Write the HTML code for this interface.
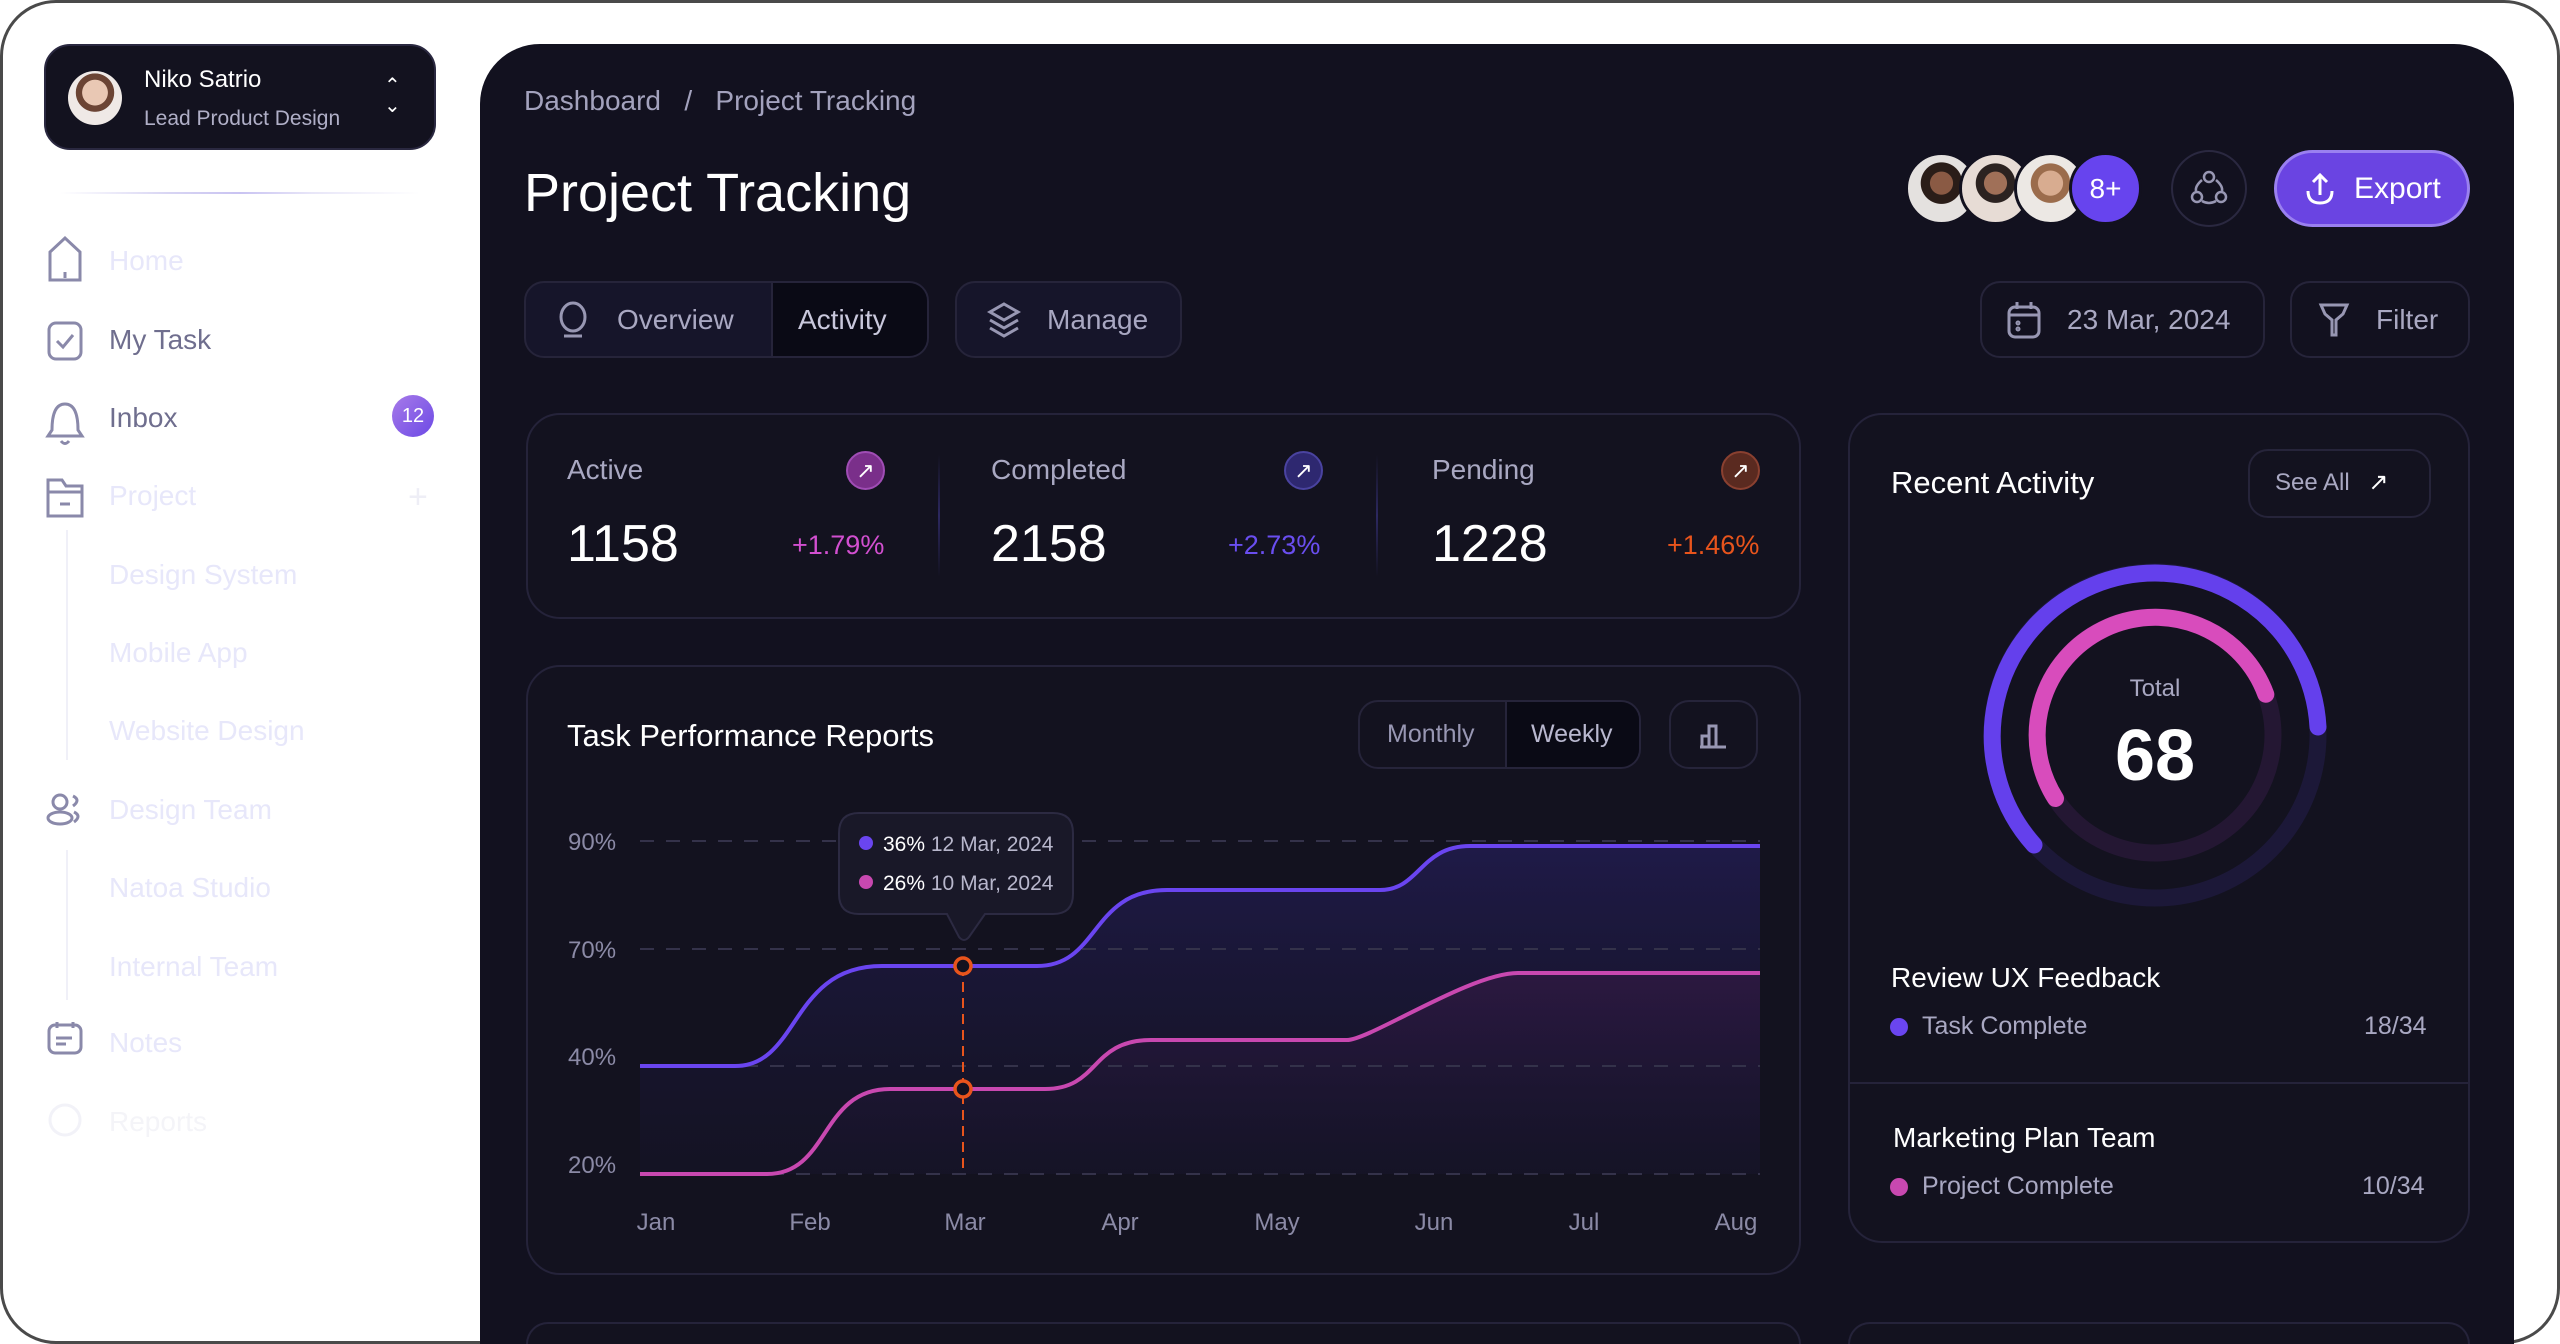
<!DOCTYPE html>
<html style="width:2560px;height:1344px;overflow:hidden"><head><meta charset="utf-8"><style>
*{box-sizing:border-box;margin:0;padding:0}
body{width:2560px;height:1344px;overflow:hidden;background:#fff;font-family:"Liberation Sans",sans-serif;position:relative}
.a{position:absolute}
.frame{left:0;top:0;width:2560px;height:1344px;border:3px solid #4a4a4a;border-radius:56px;}
.main{left:480px;top:44px;width:2034px;height:1300px;background:#12111f;border-radius:60px 60px 0 0}
.card{position:absolute;border:2px solid #25233a;border-radius:34px;background:#13121f}
.t{position:absolute;white-space:nowrap;line-height:1}
.side{color:#e7e7fa;font-size:28px}
.sideg{color:#6f6e8e;font-size:28px}
.btn{position:absolute;border:2px solid #26243a;border-radius:20px}
.g{color:#9897b3}
</style></head><body>
<div class="a frame"></div>

<!-- sidebar user card -->
<div class="a" style="left:44px;top:44px;width:392px;height:106px;background:#13121f;border:2px solid #2a2840;border-radius:26px"></div>
<div class="a" style="left:68px;top:71px;width:54px;height:54px;border-radius:50%;background:radial-gradient(circle at 50% 40%,#e9c8b4 0 30%,#6b4434 31% 45%,#efe9e6 46%)"></div>
<div class="t" style="left:144px;top:68px;color:#fff;font-size:24px">Niko Satrio</div>
<div class="t" style="left:144px;top:108px;color:#b0afc7;font-size:21px">Lead Product Design</div>
<div class="t" style="left:384px;top:76px;color:#fff;font-size:20px;line-height:20px;text-align:center">&#8963;<br>&#8964;</div>
<div class="a" style="left:60px;top:192px;width:360px;height:2px;background:linear-gradient(90deg,#fff,#d8d5f3 30%,#c9c3f2 50%,#e8e6f8 70%,#fff)"></div>

<!-- sidebar items -->
<svg class="a" style="left:40px;top:230px" width="60" height="920" fill="none" stroke="#8a89aa" stroke-width="3">
 <path d="M10 50 V22 L25 8 L40 22 V50 Z"/><line x1="25" y1="42" x2="25" y2="48"/>
 <rect x="9" y="93" width="32" height="36" rx="7"/><path d="M17 111 l6 6 l10 -12"/>
 <path d="M12 200 q0-26 13-26 q13 0 13 26 l4 6 h-34 z"/><path d="M21 211 q4 5 8 0"/>
 <path d="M8 250 h14 l4 6 h16 v30 h-34 z"/><line x1="8" y1="262" x2="42" y2="262"/><line x1="20" y1="274" x2="30" y2="274"/>
 <line x1="27" y1="300" x2="27" y2="530" stroke="#f0f0f8" stroke-width="2"/>
 <circle cx="20" cy="572" r="7"/><ellipse cx="20" cy="588" rx="12" ry="6"/><path d="M33 566 q8 4 0 10 M34 582 q8 4 0 10"/>
 <line x1="27" y1="620" x2="27" y2="770" stroke="#f0f0f8" stroke-width="2"/>
 <rect x="9" y="795" width="32" height="28" rx="6"/><line x1="17" y1="792" x2="17" y2="798"/><line x1="33" y1="792" x2="33" y2="798"/><line x1="16" y1="808" x2="32" y2="808"/><line x1="16" y1="814" x2="26" y2="814"/>
 <circle cx="25" cy="890" r="15" stroke="#f2f2f8"/>
</svg>
<div class="t side" style="left:109px;top:247px">Home</div>
<div class="t sideg" style="left:109px;top:326px">My Task</div>
<div class="t sideg" style="left:109px;top:404px">Inbox</div>
<div class="a" style="left:392px;top:395px;width:42px;height:42px;border-radius:50%;background:linear-gradient(135deg,#a77ae8,#6c4ae6);color:#fff;font-size:20px;text-align:center;line-height:42px">12</div>
<div class="t side" style="left:109px;top:482px">Project</div>
<div class="t" style="left:408px;top:480px;color:#eeeef6;font-size:34px">+</div>
<div class="t side" style="left:109px;top:561px">Design System</div>
<div class="t side" style="left:109px;top:639px">Mobile App</div>
<div class="t side" style="left:109px;top:717px">Website Design</div>
<div class="t side" style="left:109px;top:796px">Design Team</div>
<div class="t side" style="left:109px;top:874px">Natoa Studio</div>
<div class="t side" style="left:109px;top:953px">Internal Team</div>
<div class="t side" style="left:109px;top:1029px">Notes</div>
<div class="t" style="left:109px;top:1108px;color:#f4f4f8;font-size:28px">Reports</div>

<!-- main -->
<div class="a main"></div>
<div class="t g" style="left:524px;top:87px;font-size:28px;color:#a3a2bd">Dashboard &nbsp;&nbsp;/ &nbsp;&nbsp;Project Tracking</div>
<div class="t" style="left:524px;top:166px;font-size:54px;color:#fff">Project Tracking</div>

<!-- tabs -->
<div class="btn" style="left:524px;top:281px;width:405px;height:77px;background:#16152a"></div>
<div class="a" style="left:771px;top:283px;width:156px;height:73px;background:#0a0a15;border-radius:0 18px 18px 0;border-left:2px solid #26243a"></div>
<svg class="a" style="left:556px;top:300px" width="34" height="40" fill="none" stroke="#9897b3" stroke-width="3"><ellipse cx="17" cy="17" rx="12" ry="14"/><line x1="8" y1="36" x2="26" y2="36"/></svg>
<div class="t" style="left:617px;top:306px;font-size:28px;color:#a9a8c2">Overview</div>
<div class="t" style="left:798px;top:306px;font-size:28px;color:#c9c8dc">Activity</div>
<div class="btn" style="left:955px;top:281px;width:227px;height:77px;background:#16152a"></div>
<svg class="a" style="left:984px;top:300px" width="40" height="40" fill="none" stroke="#9897b3" stroke-width="3"><path d="M20 4 L34 12 L20 20 L6 12 Z"/><path d="M6 20 L20 28 L34 20"/><path d="M6 28 L20 36 L34 28"/></svg>
<div class="t" style="left:1047px;top:306px;font-size:28px;color:#a9a8c2">Manage</div>

<!-- top right -->
<div class="a" style="left:1905px;top:152px;width:73px;height:73px;border-radius:50%;border:3px solid #12111f;background:radial-gradient(circle at 50% 42%,#8a5a44 0 22%,#2a1d18 23% 40%,#e4e1df 41%)"></div>
<div class="a" style="left:1959px;top:152px;width:73px;height:73px;border-radius:50%;border:3px solid #12111f;background:radial-gradient(circle at 50% 42%,#a07058 0 22%,#2b2220 23% 38%,#e7dcd5 39%)"></div>
<div class="a" style="left:2014px;top:152px;width:73px;height:73px;border-radius:50%;border:3px solid #12111f;background:radial-gradient(circle at 50% 42%,#d8ac90 0 24%,#9b6c4c 25% 38%,#ece8e4 39%)"></div>
<div class="a" style="left:2069px;top:152px;width:73px;height:73px;border-radius:50%;border:3px solid #12111f;background:#6744ee;color:#fff;font-size:28px;text-align:center;line-height:67px">8+</div>
<div class="a" style="left:2171px;top:150px;width:76px;height:77px;border-radius:50%;border:2px solid #2a2840"></div>
<svg class="a" style="left:2189px;top:168px" width="40" height="40" fill="none" stroke="#9897b3" stroke-width="2.5"><circle cx="20" cy="9" r="5"/><circle cx="8" cy="29" r="5"/><circle cx="32" cy="29" r="5"/><path d="M13 12 Q6 18 7 23 M27 12 Q34 18 33 23 M13 33 Q20 37 27 33"/></svg>
<div class="a" style="left:2274px;top:150px;width:196px;height:77px;border-radius:40px;background:#6a44e2;border:3px solid #9a80f0"></div>
<svg class="a" style="left:2302px;top:171px" width="36" height="36" fill="none" stroke="#fff" stroke-width="3"><path d="M18 4 V24 M11 11 L18 4 L25 11"/><path d="M6 20 Q6 32 18 32 Q30 32 30 20"/></svg>
<div class="t" style="left:2354px;top:174px;font-size:30px;color:#fff">Export</div>

<div class="btn" style="left:1980px;top:281px;width:285px;height:77px"></div>
<svg class="a" style="left:2006px;top:300px" width="36" height="40" fill="none" stroke="#9897b3" stroke-width="3"><rect x="3" y="7" width="30" height="30" rx="6"/><line x1="3" y1="15" x2="33" y2="15"/><line x1="11" y1="2" x2="11" y2="9"/><line x1="25" y1="2" x2="25" y2="9"/><circle cx="12" cy="23" r="1"/><circle cx="12" cy="29" r="1"/></svg>
<div class="t" style="left:2067px;top:306px;font-size:28px;color:#a9a8c2">23 Mar, 2024</div>
<div class="btn" style="left:2290px;top:281px;width:180px;height:77px"></div>
<svg class="a" style="left:2318px;top:302px" width="32" height="36" fill="none" stroke="#9897b3" stroke-width="3"><path d="M3 3 H29 L25 12 L18 18 V33 L14 33 V18 L7 12 Z"/></svg>
<div class="t" style="left:2376px;top:306px;font-size:28px;color:#a9a8c2">Filter</div>

<!-- stats card -->
<div class="card" style="left:526px;top:413px;width:1275px;height:206px"></div>
<div class="a" style="left:938px;top:455px;width:2px;height:122px;background:linear-gradient(#13121f,#2c2860,#13121f)"></div>
<div class="a" style="left:1376px;top:455px;width:2px;height:122px;background:linear-gradient(#13121f,#2c2860,#13121f)"></div>
<div class="t" style="left:567px;top:456px;font-size:28px;color:#a9a8c2">Active</div>
<div class="t" style="left:567px;top:518px;font-size:52px;color:#fff">1158</div>
<div class="t" style="left:792px;top:532px;font-size:27px;color:#d24fd0">+1.79%</div>
<div class="a" style="left:846px;top:451px;width:39px;height:39px;border-radius:50%;background:#7a2f8a;border:2px solid #a04db5;color:#fff;font-size:22px;text-align:center;line-height:35px">&#8599;</div>
<div class="t" style="left:991px;top:456px;font-size:28px;color:#a9a8c2">Completed</div>
<div class="t" style="left:991px;top:518px;font-size:52px;color:#fff">2158</div>
<div class="t" style="left:1228px;top:532px;font-size:27px;color:#6a4ef0">+2.73%</div>
<div class="a" style="left:1284px;top:451px;width:39px;height:39px;border-radius:50%;background:#2e2870;border:2px solid #4a43a0;color:#fff;font-size:22px;text-align:center;line-height:35px">&#8599;</div>
<div class="t" style="left:1432px;top:456px;font-size:28px;color:#a9a8c2">Pending</div>
<div class="t" style="left:1432px;top:518px;font-size:52px;color:#fff">1228</div>
<div class="t" style="left:1667px;top:532px;font-size:27px;color:#e8541c">+1.46%</div>
<div class="a" style="left:1721px;top:451px;width:39px;height:39px;border-radius:50%;background:#5a2a20;border:2px solid #8a4030;color:#fff;font-size:22px;text-align:center;line-height:35px">&#8599;</div>

<!-- chart card -->
<div class="card" style="left:526px;top:665px;width:1275px;height:610px"></div>
<div class="t" style="left:567px;top:720px;font-size:31px;color:#fff">Task Performance Reports</div>
<div class="btn" style="left:1358px;top:700px;width:283px;height:69px"></div>
<div class="a" style="left:1505px;top:702px;width:134px;height:65px;background:#0a0a15;border-radius:0 18px 18px 0;border-left:2px solid #26243a"></div>
<div class="t" style="left:1387px;top:722px;font-size:25px;color:#9897b3">Monthly</div>
<div class="t" style="left:1531px;top:722px;font-size:25px;color:#b9b8cf">Weekly</div>
<div class="btn" style="left:1669px;top:700px;width:89px;height:69px"></div>
<svg class="a" style="left:1698px;top:720px" width="32" height="30" fill="none" stroke="#9897b3" stroke-width="3"><path d="M4 26 V16 H11 V26 M11 26 V6 H18 V26"/><line x1="2" y1="27" x2="28" y2="27"/></svg>

<svg class="a" style="left:0;top:0" width="2560" height="1344">
 <defs>
  <linearGradient id="gp" x1="0" y1="0" x2="0" y2="1"><stop offset="0" stop-color="#1f1a48"/><stop offset="1" stop-color="#17152e" stop-opacity="0.3"/></linearGradient>
  <linearGradient id="gk" x1="0" y1="0" x2="0" y2="1"><stop offset="0" stop-color="#2c1840"/><stop offset="1" stop-color="#1a1530" stop-opacity="0.2"/></linearGradient>
 </defs>
 <g font-size="24" fill="#8b8aa6">
  <text x="568" y="850">90%</text><text x="568" y="958">70%</text><text x="568" y="1065">40%</text><text x="568" y="1173">20%</text>
 </g>
 <path d="M640 1066 H735 C800 1066 790 966 882 966 H1037 C1100 966 1090 890 1167 890 H1380 C1420 890 1420 846 1470 846 H1760 V1174 H640 Z" fill="url(#gp)"/>
 <path d="M640 1174 H767 C830 1174 820 1089 890 1089 H1045 C1100 1089 1090 1040 1151 1040 H1347 C1370 1040 1470 973 1518 973 H1760 V1174 H640 Z" fill="url(#gk)"/>
 <g stroke="#34324a" stroke-width="2" stroke-dasharray="14 12">
  <line x1="640" y1="841" x2="1760" y2="841"/><line x1="640" y1="949" x2="1760" y2="949"/><line x1="640" y1="1066" x2="1760" y2="1066"/><line x1="640" y1="1174" x2="1760" y2="1174"/>
 </g>
 <path d="M640 1066 H735 C800 1066 790 966 882 966 H1037 C1100 966 1090 890 1167 890 H1380 C1420 890 1420 846 1470 846 H1760" fill="none" stroke="#6a45f0" stroke-width="4"/>
 <path d="M640 1174 H767 C830 1174 820 1089 890 1089 H1045 C1100 1089 1090 1040 1151 1040 H1347 C1370 1040 1470 973 1518 973 H1760" fill="none" stroke="#c848b0" stroke-width="4"/>
 <line x1="963" y1="966" x2="963" y2="1174" stroke="#e8541c" stroke-width="2" stroke-dasharray="10 6"/>
 <circle cx="963" cy="966" r="8" fill="#12111f" stroke="#e8541c" stroke-width="3.5"/>
 <circle cx="963" cy="1089" r="8" fill="#12111f" stroke="#e8541c" stroke-width="3.5"/>
 <path d="M859 813 H1053 Q1073 813 1073 833 V894 Q1073 914 1053 914 H985 L969 937 Q964 943 959 937 L947 914 H859 Q839 914 839 894 V833 Q839 813 859 813 Z" fill="#191828" stroke="#2c2a42" stroke-width="2"/>
 <circle cx="866" cy="843" r="7" fill="#6a45f0"/><circle cx="866" cy="882" r="7" fill="#c848b0"/>
 <text x="883" y="851" font-size="21" fill="#fff">36% <tspan fill="#b8b7cc">12 Mar, 2024</tspan></text>
 <text x="883" y="890" font-size="21" fill="#fff">26% <tspan fill="#b8b7cc">10 Mar, 2024</tspan></text>
 <g font-size="24" fill="#8b8aa6" text-anchor="middle">
  <text x="656" y="1230">Jan</text><text x="810" y="1230">Feb</text><text x="965" y="1230">Mar</text><text x="1120" y="1230">Apr</text><text x="1277" y="1230">May</text><text x="1434" y="1230">Jun</text><text x="1584" y="1230">Jul</text><text x="1736" y="1230">Aug</text>
 </g>
</svg>

<!-- recent activity -->
<div class="card" style="left:1848px;top:413px;width:622px;height:830px"></div>
<div class="a" style="left:1850px;top:1082px;width:618px;height:2px;background:#25233a"></div>
<div class="t" style="left:1891px;top:467px;font-size:31px;color:#fff">Recent Activity</div>
<div class="btn" style="left:2248px;top:449px;width:183px;height:69px"></div>
<div class="t" style="left:2275px;top:471px;font-size:24px;color:#a9a8c2">See All <span style="color:#fff;margin-left:12px">&#8599;</span></div>
<svg class="a" style="left:0;top:0" width="2560" height="1344">
 <circle cx="2155" cy="735" r="163" fill="none" stroke="#1c1838" stroke-width="17"/>
 <circle cx="2155" cy="735" r="118" fill="none" stroke="#241733" stroke-width="17"/>
 <path d="M2034 845 A163 163 0 1 1 2318 727" fill="none" stroke="#6440ec" stroke-width="17" stroke-linecap="round"/>
 <path d="M2055.5 798.5 A118 118 0 1 1 2265.8 694.3" fill="none" stroke="#d84cbc" stroke-width="17" stroke-linecap="round"/>
 <text x="2155" y="696" font-size="24" fill="#a9a8c2" text-anchor="middle">Total</text>
 <text x="2155" y="780" font-size="72" fill="#fff" text-anchor="middle" font-weight="bold">68</text>
</svg>
<div class="t" style="left:1891px;top:964px;font-size:28px;color:#fff">Review UX Feedback</div>
<div class="a" style="left:1890px;top:1018px;width:18px;height:18px;border-radius:50%;background:#6a45f0"></div>
<div class="t" style="left:1922px;top:1014px;font-size:25px;color:#a9a8c2">Task Complete</div>
<div class="t" style="left:2364px;top:1014px;font-size:25px;color:#a9a8c2">18/34</div>
<div class="t" style="left:1893px;top:1124px;font-size:28px;color:#fff">Marketing Plan Team</div>
<div class="a" style="left:1890px;top:1178px;width:18px;height:18px;border-radius:50%;background:#c848b0"></div>
<div class="t" style="left:1922px;top:1174px;font-size:25px;color:#a9a8c2">Project Complete</div>
<div class="t" style="left:2362px;top:1174px;font-size:25px;color:#a9a8c2">10/34</div>

<!-- bottom cards (clipped at page bottom) -->
<div class="card" style="left:526px;top:1322px;width:1275px;height:22px;border-bottom:none;border-radius:34px 34px 0 0"></div>
<div class="card" style="left:1848px;top:1322px;width:622px;height:22px;border-bottom:none;border-radius:34px 34px 0 0"></div>
</body></html>
